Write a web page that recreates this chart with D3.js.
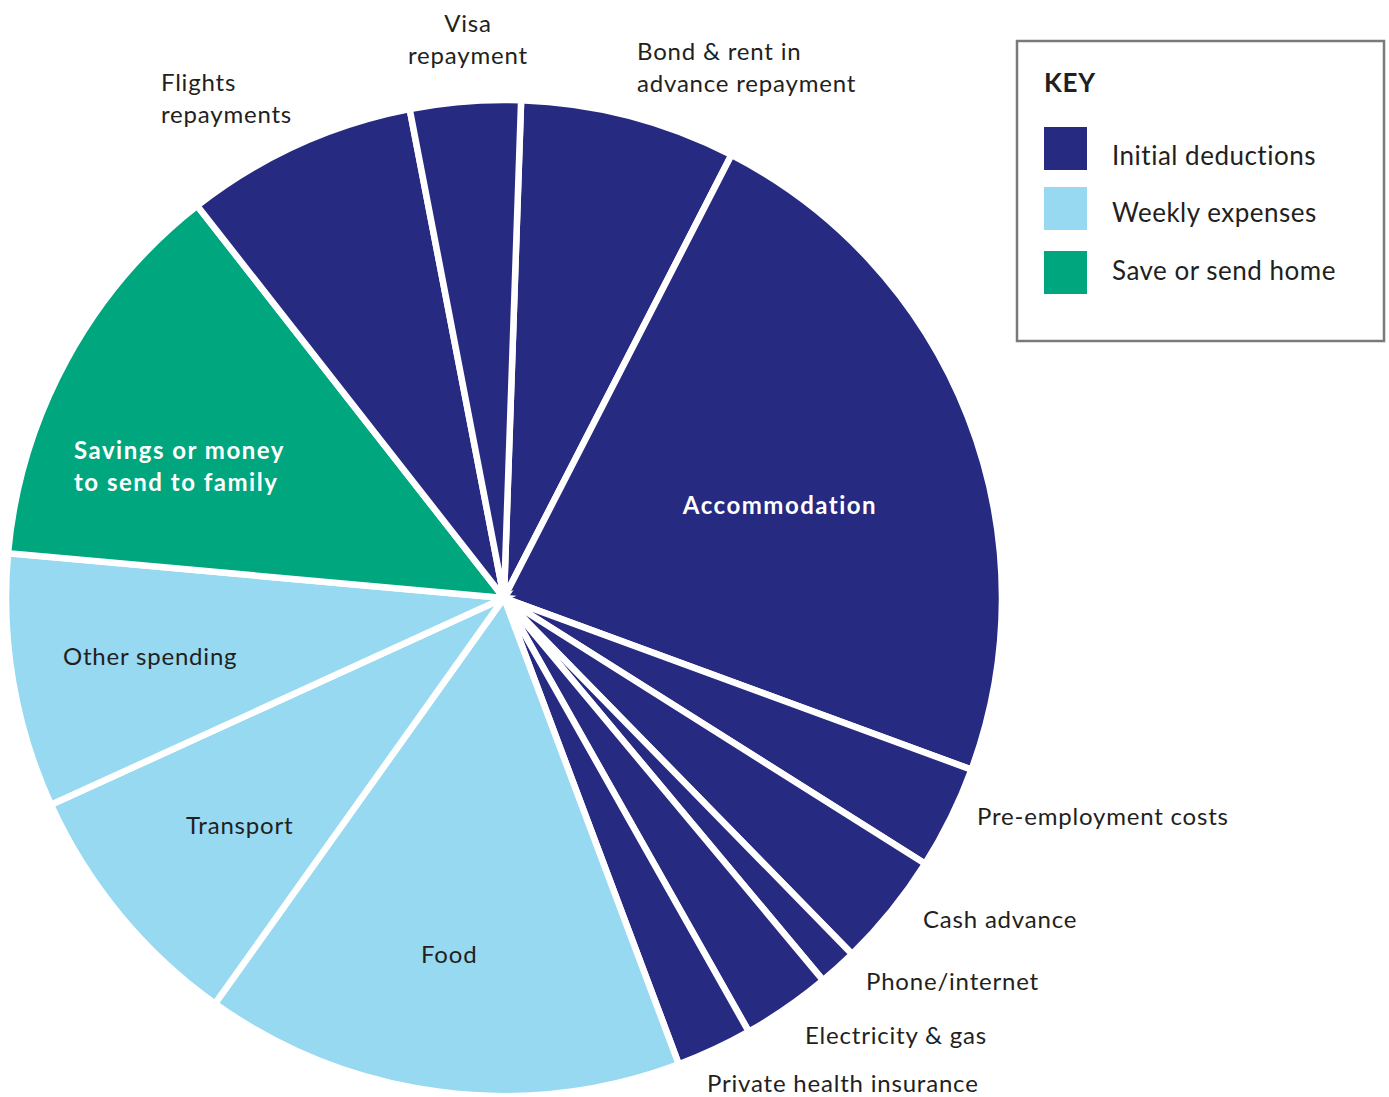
<!DOCTYPE html>
<html>
<head>
<meta charset="utf-8">
<script src="https://cdn.jsdelivr.net/npm/d3@7"></script>
<style>
  html, body { margin: 0; padding: 0; background: #ffffff; }
  svg text { font-family: Lato, "Open Sans", sans-serif; }
</style>
</head>
<body>
<svg id="chart" width="1389" height="1097"></svg>
<script>
// ---- data (share of weekly wage, %) ----
const categories = [
  "Bond & rent in advance repayment", "Accommodation", "Pre-employment costs",
  "Cash advance", "Phone/internet", "Electricity & gas", "Private health insurance",
  "Food", "Transport", "Other spending", "Savings or money to send to family",
  "Flights repayments", "Visa repayment"
];
const values = [7.0, 23.05, 3.36, 3.72, 1.25, 2.89, 2.47, 15.56, 8.33, 8.25, 13.0, 7.53, 3.58];
const groups = [
  "Initial deductions", "Initial deductions", "Initial deductions", "Initial deductions",
  "Initial deductions", "Initial deductions", "Initial deductions",
  "Weekly expenses", "Weekly expenses", "Weekly expenses", "Save or send home",
  "Initial deductions", "Initial deductions"
];
const legendKeys = ["Initial deductions", "Weekly expenses", "Save or send home"];

const svg = d3.select("#chart");
const cx = 504, cy = 598, R = 498;
const color = d3.scaleOrdinal().domain(legendKeys).range(["#262a80", "#96d9f1", "#00a77e"]);

const a0 = 1.97 * Math.PI / 180;
const pie = d3.pie().sort(null).value(d => d.v).startAngle(a0).endAngle(a0 + 2 * Math.PI);
const data = categories.map((c, i) => ({ c, v: values[i], g: groups[i] }));
const arcs = pie(data);
const arc = d3.arc().innerRadius(0).outerRadius(R);

const g = svg.append("g").attr("transform", `translate(${cx},${cy})`);
g.selectAll("path").data(arcs).join("path")
  .attr("d", arc)
  .attr("fill", d => color(d.data.g))
  .attr("stroke", "#fff")
  .attr("stroke-width", 6.5)
  .attr("stroke-linejoin", "miter");

// ---- labels (layout) ----
const labelLayout = [
  { lines: ["Bond & rent in", "advance repayment"], x: 637, y: 60, anchor: "start" },
  { lines: ["Accommodation"], x: 780, y: 514, anchor: "middle", bold: true, white: true },
  { lines: ["Pre-employment costs"], x: 977, y: 825, anchor: "start" },
  { lines: ["Cash advance"], x: 923, y: 928, anchor: "start" },
  { lines: ["Phone/internet"], x: 866, y: 990, anchor: "start" },
  { lines: ["Electricity & gas"], x: 805, y: 1044, anchor: "start" },
  { lines: ["Private health insurance"], x: 707, y: 1092, anchor: "start" },
  { lines: ["Food"], x: 421, y: 963, anchor: "start" },
  { lines: ["Transport"], x: 186, y: 834, anchor: "start" },
  { lines: ["Other spending"], x: 63, y: 665, anchor: "start" },
  { lines: ["Savings or money", "to send to family"], x: 74, y: 459, anchor: "start", bold: true, white: true },
  { lines: ["Flights", "repayments"], x: 161, y: 91, anchor: "start" },
  { lines: ["Visa", "repayment"], x: 468, y: 32, anchor: "middle" }
];
const fs = 24, lh = 32;
labelLayout.forEach(L => {
  const t = svg.append("text")
    .attr("x", L.x).attr("y", L.y)
    .attr("text-anchor", L.anchor)
    .attr("font-size", fs)
    .attr("letter-spacing", L.bold ? 1.5 : 0.8)
    .attr("font-weight", L.bold ? 700 : 400)
    .attr("fill", L.white ? "#ffffff" : "#231f20");
  L.lines.forEach((ln, i) => {
    t.append("tspan").attr("x", L.x).attr("dy", i === 0 ? 0 : lh).text(ln);
  });
});

// ---- legend ----
const lg = svg.append("g");
lg.append("rect").attr("x", 1017).attr("y", 41).attr("width", 367).attr("height", 300)
  .attr("fill", "#fff").attr("stroke", "#7a7a7a").attr("stroke-width", 2.5);
lg.append("text").attr("x", 1044).attr("y", 92).attr("font-size", 26).attr("font-weight", 700)
  .attr("letter-spacing", 0.8).attr("fill", "#231f20").text("KEY");
const swY = [127, 187, 251];
const txY = [165, 222, 280];
legendKeys.forEach((k, i) => {
  lg.append("rect").attr("x", 1044).attr("y", swY[i]).attr("width", 43).attr("height", 43).attr("fill", color(k));
  lg.append("text").attr("x", 1112).attr("y", txY[i]).attr("font-size", 26)
    .attr("letter-spacing", 0.5).attr("fill", "#231f20").text(k);
});
</script>
</body>
</html>
